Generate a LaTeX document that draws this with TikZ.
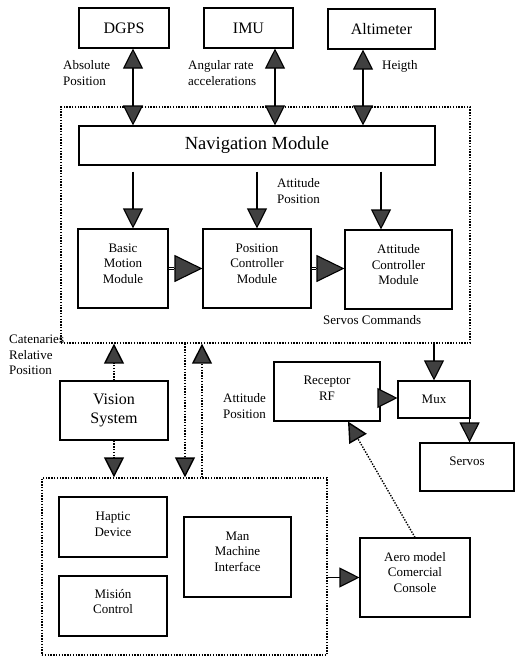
\documentclass[tikz,border=0pt]{standalone}
\usepackage{fontspec}
\setmainfont{Liberation Serif}
\usetikzlibrary{arrows.meta}
\definecolor{tipgray}{gray}{0.25}
\tikzset{
  BT/.tip={Triangle[length=20pt,width=20pt,fill=tipgray]},
  BBT/.tip={Triangle[length=28pt,width=27pt,fill=tipgray]},
}
\begin{document}
\begin{tikzpicture}[x=1pt,y=-1pt,
  box/.style={draw, line width=1.1pt, align=center, inner sep=0pt, font=\fontsize{13}{15.5}\selectfont},
  modbox/.style={box, text depth=10pt},
  bigbox/.style={box, font=\fontsize{16}{19}\selectfont},
  grp/.style={draw, line width=1.3pt, dash pattern=on 1.4pt off 1.4pt, inner sep=0pt},
  lbl/.style={font=\fontsize{13}{15.5}\selectfont, inner sep=0pt},
  conn/.style={line width=1.1pt},
  tri/.style={conn, -BT},
  dtri/.style={conn, BT-BT},
  dots/.style={line width=1.4pt, dash pattern=on 1.4pt off 1.4pt, -BT},
]
\useasboundingbox (0,0) rectangle (515,656);
% top sensors
\node[bigbox, minimum width=90pt, minimum height=40pt] (dgps) at (124,28) {DGPS};
\node[bigbox, minimum width=89pt, minimum height=40pt] (imu) at (248.5,28) {IMU};
\node[bigbox, minimum width=107pt, minimum height=40pt] (alt) at (381.5,29) {Altimeter};
% navigation group
\node[grp, minimum width=409pt, minimum height=236pt] (navg) at (265.5,225) {};
\node[box, font=\fontsize{18.5}{22}\selectfont, minimum width=356pt, minimum height=39pt] (nav) at (257,145.5) {Navigation Module};
\node[modbox, minimum width=90pt, minimum height=79pt] (basic) at (123,268.5) {Basic\\Motion\\Module};
\node[modbox, minimum width=108pt, minimum height=79pt] (posc) at (257,268.5) {Position\\Controller\\Module};
\node[modbox, minimum width=107pt, minimum height=79pt] (attc) at (398.5,269.5) {Attitude\\Controller\\Module};
% vision
\node[bigbox, minimum width=108pt, minimum height=59pt] (vis) at (114,410.5) {Vision\\System};
% lower group
\node[grp, minimum width=285pt, minimum height=177pt] (lowg) at (184.5,566.5) {};
\node[box, text depth=6pt, minimum width=108pt, minimum height=60pt] (hap) at (113,527) {Haptic\\Device};
\node[box, text depth=9pt, minimum width=108pt, minimum height=60pt] (mis) at (113,606) {Misión\\Control};
\node[modbox, text depth=11pt, minimum width=107pt, minimum height=80pt] (mmi) at (237.5,557) {Man\\Machine\\Interface};
\node[modbox, text depth=11pt, minimum width=110pt, minimum height=79pt] (aero) at (415,577.5) {Aero model\\Comercial\\Console};
% right side
\node[box, minimum width=106pt, minimum height=59pt, text depth=7pt] (rec) at (327,391.5) {Receptor\\RF};
\node[box, minimum width=72pt, minimum height=37pt] (mux) at (434,399.5) {Mux};
\node[box, minimum width=94pt, minimum height=48pt, text depth=12pt] (serv) at (467,467) {Servos};
% labels
\node[lbl, align=left, anchor=west] (labs) at (63,73) {Absolute\\Position};
\node[lbl, align=left, anchor=west] (lang) at (188,73) {Angular rate\\accelerations};
\node[lbl, anchor=west] (lhe) at (382,66) {Heigth};
\node[lbl, align=left, anchor=west] (latt) at (277,191) {Attitude\\Position};
\node[lbl, anchor=west] (lsc) at (323,320) {Servos Commands};
\node[lbl, align=left, anchor=west] (lcat) at (9,355) {Catenaries\\Relative\\Position};
\node[lbl, align=right, anchor=east] (latt2) at (266,406) {Attitude\\Position};
% sensor links
\draw[dtri] ([xshift=9]dgps.south) -- ([xshift=9]dgps.south |- nav.north);
\draw[dtri] ([xshift=26.5]imu.south) -- ([xshift=26.5]imu.south |- nav.north);
\draw[dtri] ([xshift=-18.5]alt.south) -- ([xshift=-18.5]alt.south |- nav.north);
% nav to modules
\draw[tri, shorten <=6pt] ([xshift=10]basic.north |- nav.south) -- ([xshift=10]basic.north);
\draw[tri, shorten <=6pt] (posc.north |- nav.south) -- (posc.north);
\draw[tri, shorten <=6pt] ([xshift=-17.5]attc.north |- nav.south) -- ([xshift=-17.5]attc.north);
% module chain
\draw[conn, -BBT] (basic.east) -- (basic.east -| posc.west);
\draw[line width=0.5pt, double, double distance=1.4pt, shorten >=28pt] (basic.east) -- (basic.east -| posc.west);
\draw[conn, -BBT] (posc.east) -- (posc.east -| attc.west);
\draw[line width=0.5pt, double, double distance=1.4pt, shorten >=28pt] (posc.east) -- (posc.east -| attc.west);
% servo commands
\draw[tri] (navg.south -| mux.north) -- (mux.north);
\draw[tri] ([yshift=1.5]rec.east |- mux.west) -- ([yshift=1.5]mux.west);
\draw[tri] ([xshift=-1]mux.south east) -- ([xshift=-1]mux.south east |- serv.north);
% vision links
\draw[dots] (vis.north) -- (vis.north |- navg.south);
\draw[dots] (vis.south) -- (vis.south |- lowg.north);
\draw[dots] (navg.south -| 185,0) -- (lowg.north -| 185,0);
\draw[dots] (lowg.north -| 202,0) -- (navg.south -| 202,0);
% console links
\draw[tri] (lowg.east |- aero.west) -- (aero.west);
\draw[dots] (aero.north) -- ([xshift=21]rec.south);
\end{tikzpicture}
\end{document}
